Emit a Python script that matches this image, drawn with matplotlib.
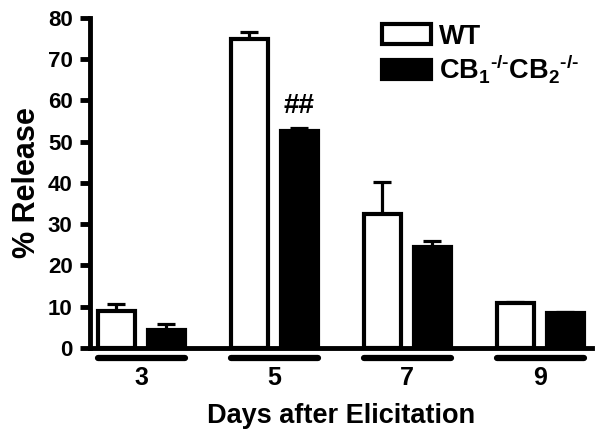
import numpy as np
import matplotlib
matplotlib.use('Agg')
import matplotlib.pyplot as plt
from matplotlib.patches import Patch
import matplotlib.transforms as mtransforms

# data
days = ['3', '5', '7', '9']
wt_mean = [9.0, 75.0, 32.5, 10.9]
wt_sem = [1.6, 1.7, 7.7, 0.2]
ko_mean = [4.4, 52.5, 24.6, 8.6]
ko_sem = [1.3, 0.8, 1.4, 0.2]
labels = ['WT', r'CB$_1$$^{\text{-/-}}$CB$_2$$^{\text{-/-}}$']

plt.rcParams['font.family'] = 'Liberation Sans'
plt.rcParams['font.weight'] = 'bold'
plt.rcParams['mathtext.fontset'] = 'custom'
plt.rcParams['mathtext.rm'] = 'Liberation Sans:bold'
plt.rcParams['mathtext.it'] = 'Liberation Sans:bold'
plt.rcParams['mathtext.bf'] = 'Liberation Sans:bold'

fig = plt.figure(figsize=(6.02, 4.37), dpi=100)
ax = fig.add_axes([0.1495, 0.2037, 0.8335, 0.7551])

x = np.arange(len(days))
w = 0.278
off = 0.188
lw = 3.0

ax.bar(x - off, wt_mean, w, color='white', edgecolor='black', linewidth=lw, zorder=2)
ax.bar(x + off, ko_mean, w, color='black', edgecolor='black', linewidth=lw, zorder=2)
ax.errorbar(x - off, wt_mean, yerr=[np.zeros(4), wt_sem], fmt='none', ecolor='black',
            elinewidth=2.3, capsize=6.5, capthick=2.3, zorder=1)
ax.errorbar(x + off, ko_mean, yerr=[np.zeros(4), ko_sem], fmt='none', ecolor='black',
            elinewidth=2.3, capsize=6.5, capthick=2.3, zorder=1)

# significance mark
ax.text(x[1] + off, ko_mean[1] + ko_sem[1] + 2.3, '##', ha='center', va='bottom',
        fontsize=20, fontweight='bold')

# group underlines below the axis
trans = mtransforms.blended_transform_factory(ax.transData, ax.transAxes)
for xi in x:
    ax.plot([xi - off - w / 2, xi + off + w / 2], [-0.03, -0.03], color='black',
            linewidth=4.5, solid_capstyle='round', transform=trans, clip_on=False)

ax.set_xlim(-0.387, 3.387)
ax.set_ylim(0, 80)
ax.set_yticks(range(0, 81, 10))
ax.set_xticks(x)
ax.set_xticklabels(days)
ax.tick_params(axis='x', length=0, pad=13, labelsize=18)
ax.tick_params(axis='y', length=7.5, width=3.5, labelsize=16, pad=5)
for t in ax.get_xticklabels() + ax.get_yticklabels():
    t.set_fontweight('bold')

ax.spines['top'].set_visible(False)
ax.spines['right'].set_visible(False)
ax.spines['left'].set_linewidth(3.5)
ax.spines['bottom'].set_linewidth(3.5)

ax.set_xlabel('Days after Elicitation', fontsize=19.5, fontweight='bold', labelpad=9)
ax.set_ylabel('% Release', fontsize=22, fontweight='bold', labelpad=4)

handles = [Patch(facecolor='white', edgecolor='black', linewidth=lw),
           Patch(facecolor='black', edgecolor='black', linewidth=lw)]
leg = ax.legend(handles, labels, loc='upper left', bbox_to_anchor=(0.545, 1.04),
                frameon=False, fontsize=19.5, handlelength=1.8, handleheight=0.75,
                handletextpad=0.3, labelspacing=0.1, borderpad=0.2)

fig.savefig('out.png', dpi=100)
